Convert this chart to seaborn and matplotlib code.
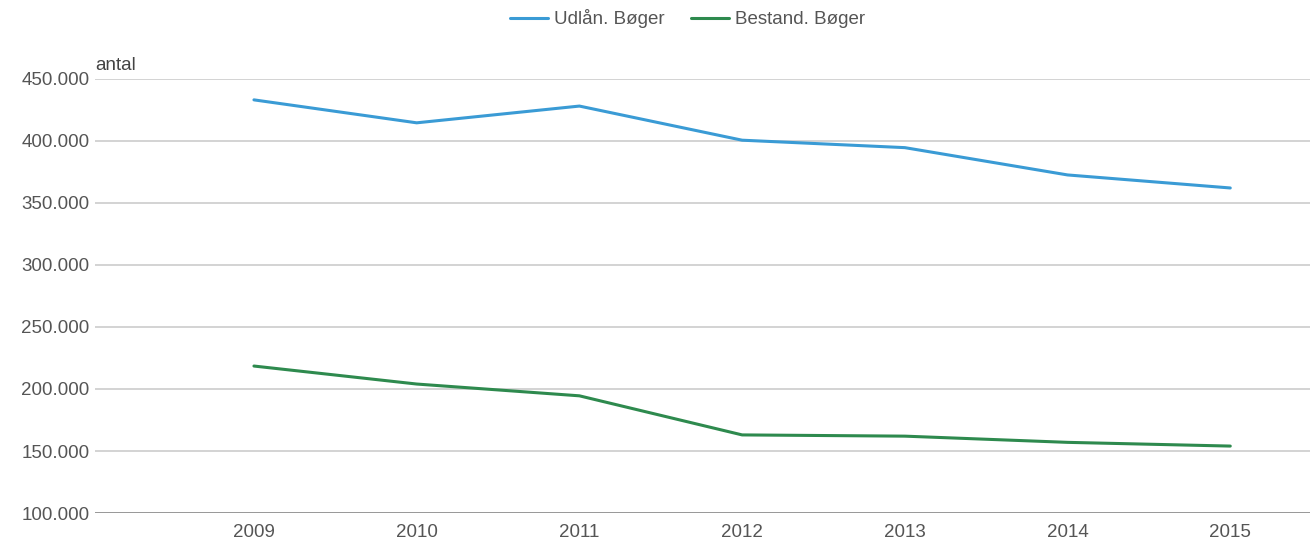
import pandas as pd
import matplotlib.pyplot as plt
import matplotlib.ticker as mticker
import seaborn as sns

# Data
years = [2009, 2010, 2011, 2012, 2013, 2014, 2015]
udlaan = [433000, 414500, 428000, 400500, 394500, 372500, 362000]
bestand = [218500, 204000, 194500, 163000, 162000, 157000, 154000]
series_names = ['Udlån. Bøger', 'Bestand. Bøger']
colors = ['#3a9bd5', '#2e8a4e']

df = pd.concat([
    pd.DataFrame({'år': years, 'antal': udlaan, 'serie': series_names[0]}),
    pd.DataFrame({'år': years, 'antal': bestand, 'serie': series_names[1]}),
])

sns.set_style('white')
plt.rcParams['font.family'] = ['Liberation Sans', 'DejaVu Sans']
fs = 13.5

fig = plt.figure(figsize=(13.1, 5.47), dpi=100)
ax = fig.add_axes([0.0725, 0.062, 0.9275, 0.794])

sns.lineplot(data=df, x='år', y='antal', hue='serie', palette=colors,
             linewidth=2.2, ax=ax, legend=True)

ax.set_xlim(2008.023, 2015.49)
ax.set_ylim(100000, 450000)
ax.set_xticks(years)
ax.set_xticklabels([str(y) for y in years])
ax.yaxis.set_major_locator(mticker.MultipleLocator(50000))
ax.yaxis.set_major_formatter(mticker.FuncFormatter(lambda v, p: f'{int(v):,}'.replace(',', '.')))

ax.grid(axis='y', color='#cccccc', linewidth=1.2)
ax.set_axisbelow(True)
for s in ax.spines.values():
    s.set_visible(False)
ax.axhline(100000, color='#999999', linewidth=1.4, zorder=1)
ax.tick_params(axis='both', length=0, labelsize=fs, colors='#555555')
ax.tick_params(axis='x', pad=8)
ax.tick_params(axis='y', pad=4)
ax.set_xlabel('')
ax.set_ylabel('')
ax.text(0.0, 1.01, 'antal', transform=ax.transAxes, fontsize=fs,
        color='#444444', ha='left', va='bottom')

# Legend at top
handles, labels = ax.get_legend_handles_labels()
ax.get_legend().remove()
fig.legend(handles, labels, loc='center', bbox_to_anchor=(0.525, 0.966),
           ncol=2, frameon=False, fontsize=fs, labelcolor='#555555',
           handlelength=2.0, handletextpad=0.35, columnspacing=1.4)

fig.savefig('out.png', dpi=100)
